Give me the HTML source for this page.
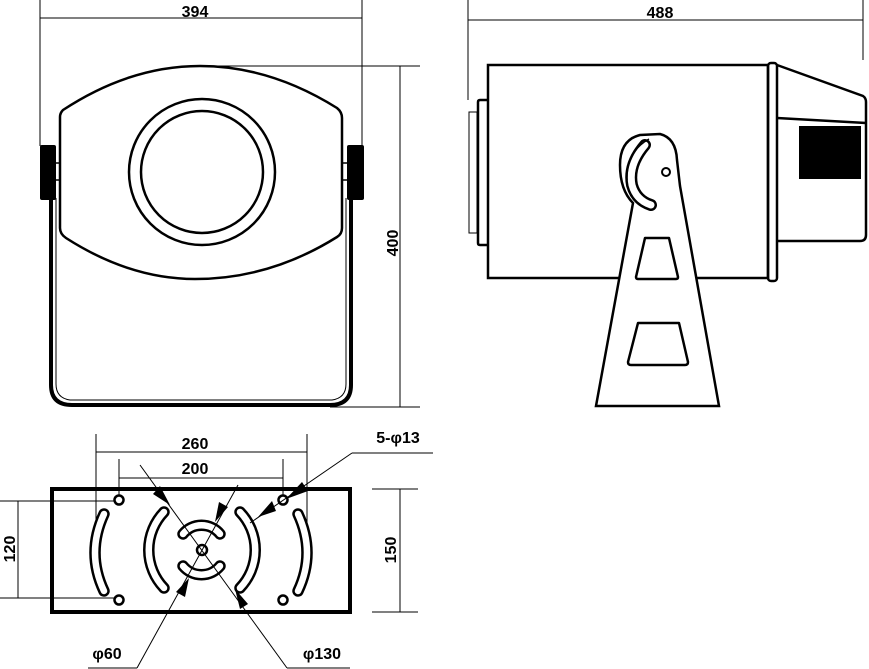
<!DOCTYPE html>
<html><head><meta charset="utf-8"><style>
html,body{margin:0;padding:0;background:#fff;}
svg{display:block;}
text{font-family:"Liberation Sans",Arial,sans-serif;font-weight:bold;font-size:16px;fill:#000;}
</style></head><body>
<svg width="869" height="669" viewBox="0 0 869 669" xmlns="http://www.w3.org/2000/svg">
<g fill="none" stroke="#000">
<!-- FRONT VIEW dims -->
<line x1="40" y1="0" x2="40" y2="146" stroke-width="1"/>
<line x1="362" y1="0" x2="362" y2="146" stroke-width="1"/>
<line x1="40" y1="18" x2="362" y2="18" stroke-width="1"/>
<line x1="200" y1="66" x2="420" y2="66" stroke-width="1"/>
<line x1="330" y1="407" x2="420" y2="407" stroke-width="1"/>
<line x1="400" y1="66" x2="400" y2="407" stroke-width="1"/>
<!-- housing -->
<path d="M63,110 Q130,66 200,66 Q270,66 337,108 Q342,112 342,118 L342,228 Q342,234 337,237 Q270,279 195,279 Q130,279 66,238 Q60,234 60,228 L60,117 Q60,113 63,110 Z" stroke-width="2.5"/>
<circle cx="202" cy="172" r="73" stroke-width="2.5"/>
<circle cx="202" cy="172" r="61" stroke-width="2.5"/>
<!-- bracket U -->
<path d="M51,198 L51,385 Q51,405 72,405 L330,405 Q351,405 351,385 L351,198" stroke-width="4"/>
<path d="M56,198 L56,384 Q56,398 70,400 L332,400 Q346,398 346,384 L346,198" stroke-width="1"/>
<line x1="55" y1="163" x2="60" y2="163" stroke-width="1.5"/>
<line x1="55" y1="180" x2="60" y2="180" stroke-width="1.5"/>
<line x1="342" y1="163" x2="348" y2="163" stroke-width="1.5"/>
<line x1="342" y1="180" x2="348" y2="180" stroke-width="1.5"/>
</g>
<rect x="40" y="145" width="16" height="55" rx="2" fill="#000"/>
<rect x="347" y="145" width="17" height="55" rx="2" fill="#000"/>
<text x="195" y="17" text-anchor="middle">394</text>
<text transform="translate(398,243) rotate(-90)" text-anchor="middle">400</text>

<!-- SIDE VIEW -->
<g fill="none" stroke="#000">
<line x1="468" y1="0" x2="468" y2="100" stroke-width="1"/>
<line x1="863" y1="0" x2="863" y2="60" stroke-width="1"/>
<line x1="468" y1="20" x2="863" y2="20" stroke-width="1"/>
<rect x="488" y="65" width="280" height="213" stroke-width="2.5"/>
<path d="M488,100 L480,100 Q478,100 478,102 L478,243 Q478,245 480,245 L488,245" stroke-width="2.5"/>
<rect x="469" y="112" width="8" height="121" stroke-width="1"/>
<rect x="768" y="63" width="9" height="218" rx="3" stroke-width="2.5"/>
<path d="M777,65 L863,96 Q866,98 866,102 L866,235 Q866,241 860,241 L777,241" stroke-width="2.5"/>
<line x1="777" y1="118" x2="866" y2="123" stroke-width="2.5"/>
<!-- stand -->
<path d="M596,406 L633,203 Q620,190 620,165 Q620,140 640,135 L660,134 Q676,138 677,160 L680,186 L719,406 Z" fill="#fff" stroke-width="2.5"/>
<path d="M645,145 Q628,165 632,185 Q636,200 651,205" stroke="#000" stroke-width="12" stroke-linecap="round"/>
<path d="M645,145 Q628,165 632,185 Q636,200 651,205" stroke="#fff" stroke-width="7" stroke-linecap="round"/>
<path d="M649,139 Q626,152 627,180" stroke-width="1.5"/>
<circle cx="666" cy="172" r="4" stroke-width="2"/>
<path d="M645,238 L669,238 L678,277 Q678,279 676,279 L638,279 Q636,279 636,277 Z" stroke-width="2.5" stroke-linejoin="round"/>
<path d="M638,323 L679,323 L688,362 Q688,365 685,365 L631,365 Q628,365 628,362 Z" stroke-width="2.5" stroke-linejoin="round"/>
</g>
<rect x="799" y="126" width="62" height="53" fill="#000"/>
<text x="660" y="18" text-anchor="middle">488</text>

<!-- BOTTOM VIEW -->
<g fill="none" stroke="#000">
<rect x="52" y="489" width="298" height="123" stroke-width="4"/>
<line x1="96" y1="434" x2="96" y2="548" stroke-width="1"/>
<line x1="307" y1="434" x2="307" y2="548" stroke-width="1"/>
<line x1="96" y1="452" x2="307" y2="452" stroke-width="1"/>
<line x1="119" y1="459" x2="119" y2="496" stroke-width="1"/>
<line x1="283" y1="459" x2="283" y2="496" stroke-width="1"/>
<line x1="119" y1="478" x2="283" y2="478" stroke-width="1"/>
<line x1="0" y1="501" x2="114" y2="501" stroke-width="1"/>
<line x1="0" y1="598" x2="114" y2="598" stroke-width="1"/>
<line x1="18" y1="501" x2="18" y2="598" stroke-width="1"/>
<line x1="372" y1="489" x2="418" y2="489" stroke-width="1"/>
<line x1="372" y1="612" x2="418" y2="612" stroke-width="1"/>
<line x1="400" y1="489" x2="400" y2="612" stroke-width="1"/>
<circle cx="119" cy="500" r="4.5" stroke-width="2.5"/>
<circle cx="283" cy="500" r="4.5" stroke-width="2.5"/>
<circle cx="119" cy="600" r="4.5" stroke-width="2.5"/>
<circle cx="283" cy="600" r="4.5" stroke-width="2.5"/>
<circle cx="202" cy="550" r="5" stroke-width="2.5"/>
<g stroke-linecap="round">
<g stroke="#000" stroke-width="11.5">
<path d="M104,514 Q86,553 104,591"/>
<path d="M298,514 Q316,553 298,591"/>
<path d="M164,512 A55,55 0 0 0 164,588"/>
<path d="M240,512 A55,55 0 0 1 240,588"/>
<path d="M183,534 A24,24 0 0 1 220,534"/>
<path d="M183,566 A24,24 0 0 0 220,566"/>
</g>
<g stroke="#fff" stroke-width="6.5">
<path d="M104,514 Q86,553 104,591"/>
<path d="M298,514 Q316,553 298,591"/>
<path d="M164,512 A55,55 0 0 0 164,588"/>
<path d="M240,512 A55,55 0 0 1 240,588"/>
<path d="M183,534 A24,24 0 0 1 220,534"/>
<path d="M183,566 A24,24 0 0 0 220,566"/>
</g>
</g>
<line x1="352" y1="453" x2="433" y2="453" stroke-width="1"/>
<line x1="352" y1="453" x2="250" y2="523" stroke-width="1"/>
<line x1="140" y1="465" x2="287" y2="668" stroke-width="1"/>
<line x1="287" y1="668" x2="350" y2="668" stroke-width="1"/>
<line x1="238" y1="485" x2="137" y2="668" stroke-width="1"/>
<line x1="137" y1="668" x2="88" y2="668" stroke-width="1"/>
</g>
<g fill="#000">
<polygon points="286,499 302,482 308,491"/>
<polygon points="258,517 272,501 276,511"/>
<polygon points="170,505 153,494 160,486"/>
<polygon points="235,589 248,604 240,609"/>
<polygon points="215,522 219,502 228,507"/>
<polygon points="189,578 185,597 176,592"/>
</g>
<text x="195" y="449" text-anchor="middle">260</text>
<text x="195" y="474" text-anchor="middle">200</text>
<text x="398" y="443" text-anchor="middle">5-φ13</text>
<text x="107" y="659" text-anchor="middle">φ60</text>
<text x="322" y="659" text-anchor="middle">φ130</text>
<text transform="translate(15,549) rotate(-90)" text-anchor="middle">120</text>
<text transform="translate(396,550) rotate(-90)" text-anchor="middle">150</text>
</svg>
</body></html>
